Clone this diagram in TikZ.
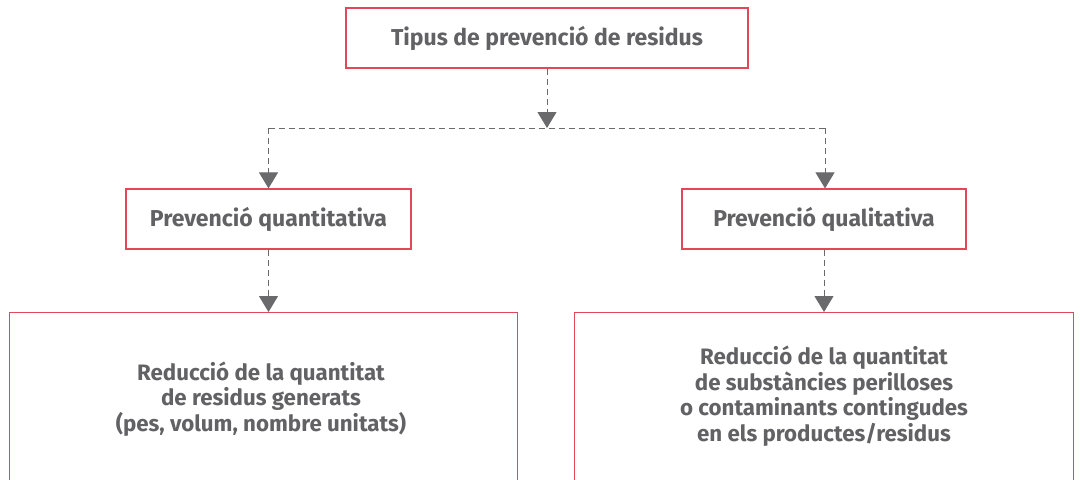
\documentclass[tikz,border=0pt]{standalone}
\usepackage{fontspec}
\setmainfont{Fira Sans}
\usetikzlibrary{arrows.meta}
\definecolor{boxred}{HTML}{E2475A}
\definecolor{txtgray}{HTML}{626265}
\definecolor{arrgray}{HTML}{6A6A6D}
\begin{document}
\begin{tikzpicture}[x=1pt,y=-1pt,
  box/.style={draw=boxred,line width=1.2pt,fill=white,inner sep=0pt,
    font=\fontsize{23}{25}\selectfont\bfseries,text=txtgray,align=center},
  body/.style={font=\fontsize{22.3}{25.6}\selectfont\bfseries,text=txtgray,align=center},
  conn/.style={draw=arrgray,line width=1pt,dash pattern=on 6pt off 4pt},
  arr/.style={conn,-{Triangle[length=16pt,width=19pt]}}]
\clip (0,0) rectangle (1081,479);
\fill[white] (0,0) rectangle (1081,479);
\node[box,minimum width=402pt,minimum height=60pt] (top) at (547,38) {Tipus de prevenció de residus};
\node[box,minimum width=285pt,minimum height=60pt] (qnt) at (268.5,219) {Prevenció quantitativa};
\node[box,minimum width=284pt,minimum height=60pt] (qlt) at (824,219) {Prevenció qualitativa};
\node[box,minimum width=508pt,minimum height=190pt,anchor=north west] (bl) at (9,312) {};
\node[box,minimum width=499pt,minimum height=190pt,anchor=north west] (br) at (574,312) {};
\node[body] (blt) at (261,399) {Reducció de la quantitat\\de residus generats\\(pes, volum, nombre unitats)};
\node[body] (brt) at (824,396) {Reducció de la quantitat\\de substàncies perilloses\\o contaminants contingudes\\en els productes/residus};
\coordinate (j) at (547,128);
\coordinate (jl) at (268.5,128);
\coordinate (jr) at (825,128);
\draw[arr] (top.south) -- (j);
\draw[conn] (jl) -- (jr);
\draw[arr] (jl) -- (jl |- qnt.north);
\draw[arr] (jr) -- (jr |- qlt.north);
\draw[arr] (qnt.south) -- (qnt.south |- bl.north);
\draw[arr] (qlt.south) -- (qlt.south |- br.north);
\end{tikzpicture}
\end{document}
